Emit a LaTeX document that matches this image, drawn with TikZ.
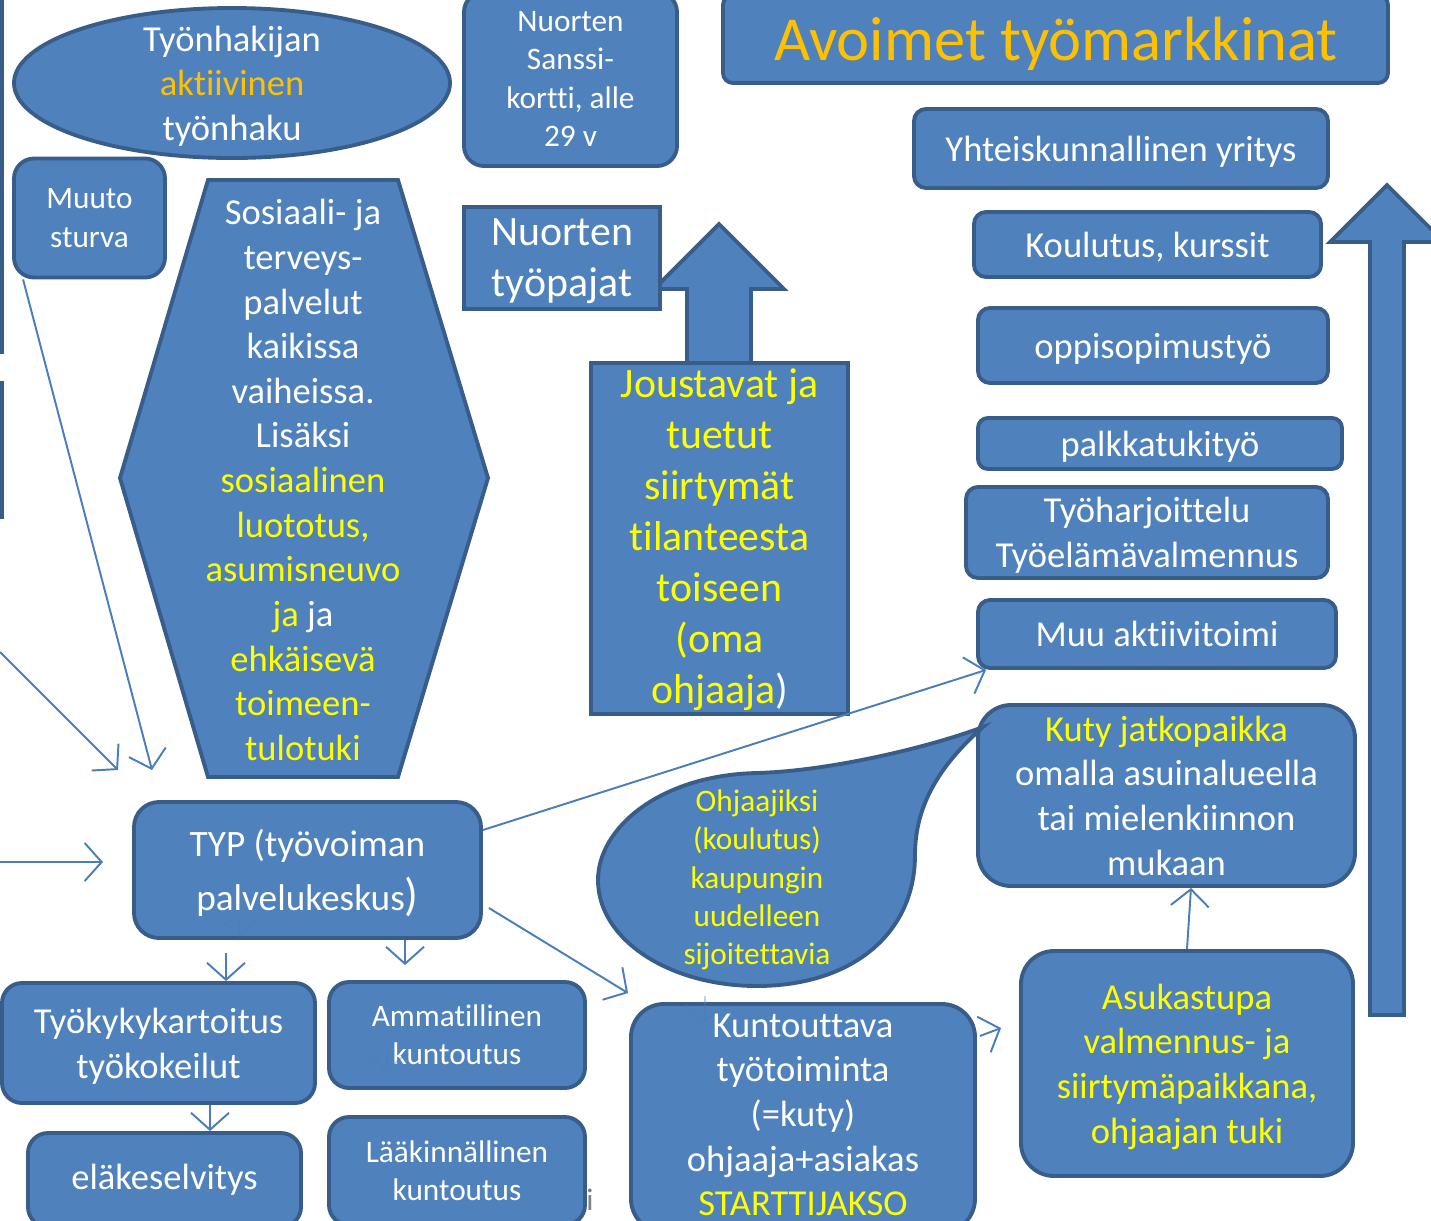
\documentclass[tikz,border=0pt]{standalone}
\usepackage{fontspec}
\setmainfont{Carlito}[RawFeature={-liga;-clig}]
\usetikzlibrary{positioning,shapes.geometric,arrows.meta,calc}

\definecolor{boxblue}{HTML}{4F81BD}
\definecolor{boxline}{HTML}{385D8A}
\definecolor{connblue}{HTML}{4A7EBB}
\definecolor{hiyellow}{HTML}{FFFF00}
\definecolor{hiorange}{HTML}{FFC000}

\newcommand{\fsm}{\fontsize{8.9pt}{10.9pt}\selectfont}
\newcommand{\fmd}{\fontsize{10.4pt}{12.7pt}\selectfont}
\newcommand{\flg}{\fontsize{11.9pt}{14.5pt}\selectfont}
\newcommand{\fxl}{\fontsize{17.8pt}{20pt}\selectfont}
\newcommand{\ftyp}{\fontsize{10.6pt}{15.6pt}\selectfont}
\newcommand{\yel}[1]{\textcolor{hiyellow}{#1}}

\begin{document}
\begin{tikzpicture}

% Styles
\tikzset{
    boxstyle/.style={draw=boxline, fill=boxblue, line width=1.1pt, text=white, align=center, inner sep=0pt},
    rbox/.style={boxstyle, rectangle, rounded corners=0.2cm},
    bigrbox/.style={boxstyle, rectangle, rounded corners=0.33cm},
    sqbox/.style={boxstyle, rectangle},
    sunk/.style={text depth=0pt},
    txt/.style={text=white, align=center, inner sep=0pt},
    bigarrow/.style={draw=boxline, fill=boxblue, line width=1.1pt, line join=miter},
    conn/.style={draw=connblue, line width=0.55pt, -{Straight Barb[length=1.7mm, width=3.8mm]}},
    faintconn/.style={conn, opacity=0.35}
}

\useasboundingbox (0,0) rectangle (14.31,-12.20);

% Cut boxes at the left edge
\draw[draw=boxline, line width=1.1pt] (0.02,0) -- (0.02,-3.54);
\draw[draw=boxline, line width=1.1pt] (0.02,-3.81) -- (0.02,-5.19);

% Top left
\node[boxstyle, ellipse, minimum width=4.36cm, minimum height=1.50cm] (haku) at (2.32,-0.83) {};
\node[txt, font=\fmd] (hakutxt) at (2.32,-0.86) {Työnhakijan\\\textcolor{hiorange}{aktiivinen}\\työnhaku};
\node[rbox, font=\fsm, minimum width=1.51cm, minimum height=1.19cm] (muuto) at (0.895,-2.18) {Muuto\\sturva};
\node[rbox, font=\fsm, minimum width=2.13cm, minimum height=1.74cm] (sanssi) at (5.705,-0.79) {Nuorten\\Sanssi-\\kortti, alle\\29 v};

% Hexagon
\draw[bigarrow] (2.08,-1.80) -- (3.98,-1.80) -- (4.88,-4.78) -- (3.98,-7.77) -- (2.08,-7.77) -- (1.20,-4.78) -- cycle;
\node[txt, font=\fmd] (sote) at (3.03,-4.80) {Sosiaali- ja\\terveys-\\palvelut\\kaikissa\\vaiheissa.\\Lisäksi\\\yel{sosiaalinen}\\\yel{luototus,}\\\yel{asumisneuvo}\\\yel{ja} ja\\\yel{ehkäisevä}\\\yel{toimeen-}\\\yel{tulotuki}};

% Middle arrow and boxes
\draw[bigarrow] (6.87,-3.63) -- (6.87,-2.89) -- (6.54,-2.89) -- (7.19,-2.24) -- (7.84,-2.89) -- (7.51,-2.89) -- (7.51,-3.63) -- cycle;
\node[sqbox, sunk, minimum width=1.96cm, minimum height=1.02cm, font=\flg] (pajat) at (5.62,-2.58) {Nuorten\\työpajat};
\node[sqbox, minimum width=2.57cm, minimum height=3.51cm] (jousto) at (7.195,-5.385) {};
\node[txt, font=\flg, text=hiyellow] (joustotxt) at (7.195,-5.40) {Joustavat ja\\tuetut\\siirtymät\\tilanteesta\\toiseen\\(oma\\ohjaaja\textcolor{white}{)}};

% Right column
\node[boxstyle, rounded corners=0.1cm, minimum width=6.65cm, minimum height=0.88cm] (avoimet) at (10.555,-0.39) {};
\node[txt, font=\fxl, text=hiorange] (avoimettxt) at (10.56,-0.44) {Avoimet työmarkkinat};
\draw[bigarrow] (13.70,-10.15) -- (13.70,-2.42) -- (13.30,-2.42) -- (13.87,-1.85) -- (14.44,-2.42) -- (14.04,-2.42) -- (14.04,-10.15) -- cycle;
\node[rbox, sunk, rounded corners=0.12cm, font=\fmd, minimum width=4.14cm, minimum height=0.79cm] (yhteis) at (11.21,-1.485) {Yhteiskunnallinen yritys};
\node[rbox, sunk, rounded corners=0.12cm, font=\fmd, minimum width=3.47cm, minimum height=0.65cm] (koulutus) at (11.475,-2.445) {Koulutus, kurssit};
\node[rbox, sunk, rounded corners=0.12cm, font=\fmd, minimum width=3.50cm, minimum height=0.75cm] (oppi) at (11.53,-3.455) {oppisopimustyö};
\node[rbox, sunk, rounded corners=0.1cm, font=\fmd, minimum width=3.64cm, minimum height=0.51cm] (palkka) at (11.60,-4.435) {palkkatukityö};
\node[rbox, sunk, rounded corners=0.12cm, font=\fmd, minimum width=3.62cm, minimum height=0.91cm] (harjoit) at (11.47,-5.325) {Työharjoittelu\\Työelämävalmennus};
\node[rbox, sunk, rounded corners=0.12cm, font=\fmd, minimum width=3.58cm, minimum height=0.68cm] (muuakt) at (11.57,-6.34) {Muu aktiivitoimi};
\node[bigrbox, font=\fmd, minimum width=3.77cm, minimum height=1.81cm] (kuty) at (11.665,-7.955) {\yel{Kuty jatkopaikka}\\omalla asuinalueella\\tai mielenkiinnon\\mukaan};
\node[bigrbox, sunk, font=\fmd, text=hiyellow, minimum width=3.32cm, minimum height=2.25cm] (asuka) at (11.87,-10.635) {Asukastupa\\valmennus- ja\\siirtymäpaikkana,\\ohjaajan tuki};

% Callout
\draw[bigarrow] (9.83,-7.27) .. controls (9.30,-7.47) and (8.30,-7.71) .. (7.57,-7.73)
    .. controls (6.60,-7.75) and (5.98,-8.28) .. (5.98,-8.80)
    .. controls (5.98,-9.40) and (6.70,-9.86) .. (7.57,-9.86)
    .. controls (8.50,-9.86) and (9.15,-9.35) .. (9.15,-8.55)
    .. controls (9.15,-8.05) and (9.40,-7.65) .. cycle;
\node[txt, font=\fsm, text=hiyellow] (ohjaajiksi) at (7.57,-8.80) {Ohjaajiksi\\(koulutus)\\kaupungin\\uudelleen\\sijoitettavia};

% Bottom part
\node[rbox, rounded corners=0.25cm, minimum width=3.47cm, minimum height=1.36cm] (typ) at (3.075,-8.70) {};
\node[txt, font=\ftyp] (typtxt) at (3.075,-8.73) {TYP (työvoiman\\palvelukeskus{\fontsize{13pt}{15.6pt}\selectfont)}};
\node[rbox, sunk, font=\fmd, minimum width=3.13cm, minimum height=1.20cm] (tyokyky) at (1.585,-10.43) {Työkykykartoitus\\työkokeilut};
\node[rbox, font=\fmd, minimum width=2.73cm, minimum height=0.94cm] (elake) at (1.645,-11.80) {eläkeselvitys};
\node[rbox, font=\fsm, minimum width=2.56cm, minimum height=1.06cm] (ammat) at (4.57,-10.35) {Ammatillinen\\kuntoutus};
\node[rbox, font=\fsm, minimum width=2.56cm, minimum height=1.08cm] (laakin) at (4.57,-11.71) {Lääkinnällinen\\kuntoutus};
\node[bigrbox, minimum width=3.44cm, minimum height=2.28cm] (kunto) at (8.03,-11.18) {};
\node[txt, font=\fmd] (kuntotxt) at (8.03,-11.15) {Kuntouttava\\työtoiminta\\(=kuty)\\ohjaaja+asiakas\\\yel{STARTTIJAKSO}};
\node[text=gray, font=\fsm, inner sep=0pt] (frag) at (5.90,-12.00) {i};

% Connectors
\coordinate (inleft) at (0,-6.52);
\coordinate (inmid) at (0,-8.62);
\coordinate (tipleft) at (1.18,-7.70);
\coordinate (tipmuuto) at (1.52,-7.70);
\coordinate (tiptyp) at (1.03,-8.62);
\draw[conn] (inleft) -- (tipleft);
\draw[conn] ([xshift=0.11cm]muuto.south west) -- (tipmuuto);
\draw[conn] (inmid) -- (tiptyp);
\draw[conn] ([yshift=0.40cm]typ.east) -- ([xshift=0.10cm]muuakt.south west);
\draw[conn] ([shift={(0.06,-0.38)}]typ.east) -- ([shift={(-0.01,0.09)}]kunto.north west);
\draw[conn] ([shift={(0.675,0.28)}]tyokyky.north) -- ([xshift=0.675cm]tyokyky.north);
\draw[conn] ([xshift=0.975cm]typ.south) -- ([shift={(-0.52,0.15)}]ammat.north);
\draw[conn] ([xshift=0.515cm]tyokyky.south) -- ([xshift=0.455cm]elake.north);
\draw[conn] ([shift={(0.03,0.82)}]kunto.east) -- ([shift={(-0.18,0.355)}]asuka.west);
\draw[conn] (asuka.north) -- ([xshift=0.245cm]kuty.south);

% Faint arrows behind the boxes
\draw[faintconn] ([xshift=-0.685cm, yshift=-0.47cm]typ.center) -- ++(0,-0.20);
\draw[faintconn] ([shift={(-0.70,-0.15)}]ammat.center) -- ++(0,-0.22);
\draw[faintconn] ([shift={(-0.98,0.06)}]kunto.north) -- ++(0,-0.27);

\end{tikzpicture}
\end{document}
